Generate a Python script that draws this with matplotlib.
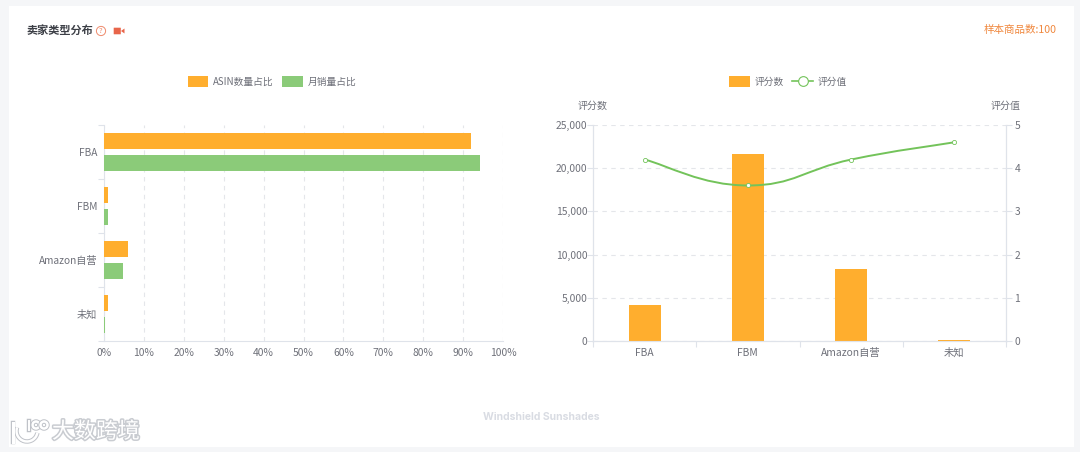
import numpy as np
import matplotlib
matplotlib.use('Agg')
import matplotlib.pyplot as plt
import matplotlib.patheffects as pe
from matplotlib.patches import Rectangle, Circle, Arc, PathPatch, FancyBboxPatch, Polygon
from matplotlib.path import Path
from matplotlib.lines import Line2D

plt.rcParams['font.family'] = ['Noto Sans CJK SC', 'DejaVu Sans']

categories = ['FBA', 'FBM', 'Amazon自营', '未知']
asin_share = [92, 1, 6, 1]
sales_share = [94.3, 1, 4.8, 0.2]
rating_count = [4150, 21700, 8300, 120]
rating_value = [4.2, 3.6, 4.2, 4.6]
share_ticks = list(range(0, 101, 10))
count_ticks = [0, 5000, 10000, 15000, 20000, 25000]
value_ticks = [0, 1, 2, 3, 4, 5]

ORANGE = '#ffae2e'
GREEN = '#8bcb79'
LINE_GREEN = '#73c35a'
TEXT = '#6e7079'
AXIS = '#dfe3ea'
GRID = '#e4e6ea'
W, H = 1080, 452


def px_axes(x0, y0, x1, y1):
    return fig.add_axes([x0 / W, 1 - y1 / H, (x1 - x0) / W, (y1 - y0) / H])


def smooth_path(xs, ys, k=0.45):
    # bezier through the points, same idea as echarts smooth line
    verts = [(xs[0], ys[0])]
    codes = [Path.MOVETO]
    n = len(xs)
    for i in range(n - 1):
        prev_i, next_i = max(i - 1, 0), min(i + 2, n - 1)
        c1 = (xs[i] + k * (xs[i + 1] - xs[prev_i]) / 2,
              ys[i] + k * (ys[i + 1] - ys[prev_i]) / 2)
        c2 = (xs[i + 1] - k * (xs[next_i] - xs[i]) / 2,
              ys[i + 1] - k * (ys[next_i] - ys[i]) / 2)
        verts += [c1, c2, (xs[i + 1], ys[i + 1])]
        codes += [Path.CURVE4] * 3
    return Path(verts, codes)


# the +0.01 keeps the height at 452 px, 4.52 * 100 truncates to 451 otherwise
fig = plt.figure(figsize=(W / 100, (H + 0.01) / 100), dpi=100, facecolor='#f5f6f8')

# page chrome, in pixel coords
bg = fig.add_axes([0, 0, 1, 1])
bg.set_xlim(0, W)
bg.set_ylim(H, 0)
bg.axis('off')
bg.add_patch(Rectangle((9, 6), 1065, 441, fc='white', ec='none'))
bg.text(26, 30.5, '卖家类型分布', fontsize=8, fontweight='bold', color='#3c3f46', va='center')
bg.add_patch(Circle((101, 31), 4.6, fc='none', ec='#ee8a6c', lw=0.7))
bg.text(101, 31, '?', fontsize=5.5, color='#ee8a6c', ha='center', va='center')
bg.add_patch(FancyBboxPatch((114, 28), 6.5, 6, boxstyle='round,pad=0.3', fc='#e8654a', ec='none'))
bg.add_patch(Polygon([(121, 31), (124.5, 28.5), (124.5, 33.5)], fc='#e8654a', ec='none'))
bg.text(1057, 30, '样本商品数:100', fontsize=7.6, color='#f0883e', ha='right', va='center')
bg.text(541, 417, 'Windshield Sunshades', fontsize=7.5, fontweight='bold', color='#d9dce3',
        family='Inter', ha='center', va='center')

# watermark
halo = [pe.withStroke(linewidth=2.2, foreground='#c9ccd1')]
logo_halo = [pe.withStroke(linewidth=3.2, foreground='#bfc2c8')]
bg.text(52, 432, '大数跨境', fontsize=15.8, color='white', va='center', path_effects=halo)
wm = [Arc((27, 431), 21, 21, theta1=10, theta2=200),
      Circle((36, 425), 3.5, fc='none'), Circle((44, 425), 3.5, fc='none')]
for p in wm:
    p.set(ec='white', lw=1.8, path_effects=logo_halo)
    bg.add_patch(p)
bg.add_line(Line2D([13, 13], [423, 442], color='white', lw=2.2, path_effects=logo_halo))
bg.add_line(Line2D([29, 29], [421, 430], color='white', lw=1.4, path_effects=logo_halo))

# left chart
y = np.arange(len(categories))
ax1 = px_axes(104, 125, 503, 341)
ax1.barh(y - 0.2, asin_share, height=0.3, color=ORANGE, label='ASIN数量占比', zorder=3)
ax1.barh(y + 0.2, sales_share, height=0.3, color=GREEN, label='月销量占比', zorder=3)
ax1.set_xlim(0, 100)
ax1.set_ylim(3.5, -0.5)
ax1.set_xticks(share_ticks, [f'{t}%' for t in share_ticks])
ax1.set_yticks(y, categories)
ax1.set_yticks(np.arange(-0.5, 4), minor=True)
ax1.tick_params(axis='y', which='major', length=0, pad=5, labelsize=7.3, labelcolor=TEXT)
ax1.tick_params(axis='y', which='minor', length=4, color=AXIS, width=0.8)
ax1.tick_params(axis='x', length=0, pad=5, labelsize=7.4, labelcolor=TEXT)
ax1.grid(axis='x', ls=(0, (4, 4)), color=GRID, lw=0.8, zorder=0)
for s in ['top', 'right']:
    ax1.spines[s].set_visible(False)
for s in ['left', 'bottom']:
    ax1.spines[s].set_color(AXIS)
ax1.legend(loc='center', bbox_to_anchor=(168 / 399, 1.2), ncol=2, frameon=False, fontsize=7,
           labelcolor=TEXT, handlelength=2.1, handleheight=1.3, handletextpad=0.5, columnspacing=0.9)

# right chart
x = np.arange(len(categories))
ax2 = px_axes(593, 125, 1006, 341)
ax2.bar(x, rating_count, width=0.31, color=ORANGE, label='评分数', zorder=3)
ax2.set_xlim(-0.5, 3.5)
ax2.set_ylim(0, 25000)
ax2.set_xticks(x, categories)
ax2.set_xticks(np.arange(-0.5, 4), minor=True)
ax2.set_yticks(count_ticks, [f'{t:,}' for t in count_ticks])
ax2.tick_params(axis='x', which='major', length=0, pad=5, labelsize=7.4, labelcolor=TEXT)
ax2.tick_params(axis='x', which='minor', length=4, color=AXIS, width=0.8)
ax2.tick_params(axis='y', length=4, color=AXIS, width=0.8, pad=0, labelsize=7.4, labelcolor=TEXT)
ax2.grid(axis='y', ls=(0, (4, 4)), color=GRID, lw=0.8, zorder=0)
ax2.set_axisbelow(True)

ax3 = ax2.twinx()
ax3.set_ylim(0, 5)
ax3.set_yticks(value_ticks)
ax3.tick_params(axis='y', length=4, color=AXIS, width=0.8, pad=2, labelsize=7.4, labelcolor=TEXT)
ax3.add_patch(PathPatch(smooth_path(list(x), rating_value), fc='none', ec=LINE_GREEN, lw=1.4, zorder=4))
ax3.plot(x, rating_value, ls='none', marker='o', ms=3, mfc='white', mec=LINE_GREEN, mew=0.6, zorder=5)
for a in [ax2, ax3]:
    a.spines['top'].set_visible(False)
    for s in ['left', 'right', 'bottom']:
        a.spines[s].set_color(AXIS)

bars_h, _ = ax2.get_legend_handles_labels()
line_h = Line2D([], [], color=LINE_GREEN, lw=1.2, marker='o', ms=7, mfc='white', mec=LINE_GREEN, mew=0.8)
ax3.legend(bars_h + [line_h], ['评分数', '评分值'], loc='center', bbox_to_anchor=(195 / 413, 1.2), ncol=2,
           frameon=False, fontsize=7, labelcolor=TEXT, handlelength=2.1, handleheight=1.3,
           handletextpad=0.5, columnspacing=0.9)
bg.text(593, 106, '评分数', fontsize=7.2, color=TEXT, ha='center', va='center')
bg.text(1006, 106, '评分值', fontsize=7.2, color=TEXT, ha='center', va='center')

fig.savefig('out.png', dpi=100, facecolor=fig.get_facecolor())
